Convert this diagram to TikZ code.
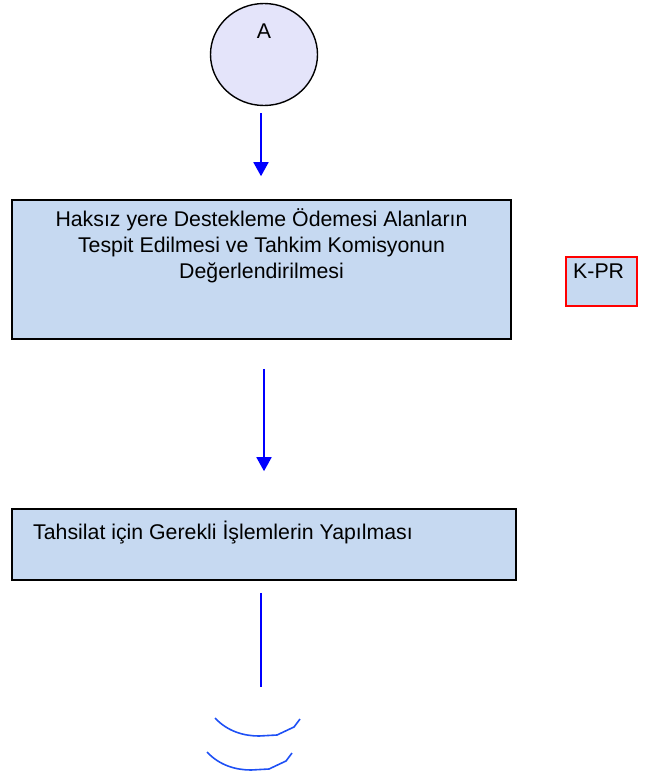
\documentclass[tikz,border=0pt]{standalone}
\usepackage{fontspec}
\setmainfont{Liberation Sans}
\usetikzlibrary{shapes.geometric,arrows.meta}
\definecolor{boxfill}{HTML}{C6D9F1}
\definecolor{circfill}{HTML}{E4E4FA}
\definecolor{arcblue}{HTML}{1E50F5}
\tikzset{
  procbox/.style={draw=black, line width=1.6pt, fill=boxfill, inner sep=0pt},
  flowarrow/.style={draw=blue, line width=1.8pt, -{Triangle[width=15pt,length=14pt]}},
  flowline/.style={draw=blue, line width=1.6pt},
  txt/.style={inner sep=0pt, font=\fontsize{21.3}{26}\selectfont},
}
\begin{document}
\begin{tikzpicture}[x=1pt,y=-1pt]
\useasboundingbox (0,0) rectangle (645,776);
% connector node A
\node[ellipse, draw=black, line width=1.4pt, fill=circfill, minimum width=107pt, minimum height=102pt, inner sep=0pt] (A) at (264,54.5) {};
\node[txt, anchor=base] (Alab) at (264,39) {A};
% box 1
\node[procbox, minimum width=499pt, minimum height=139pt] (b1) at (261.5,269.5) {};
\node[txt, anchor=base, align=center] (b1t) at (261.5,278.5) {Haksız yere Destekleme Ödemesi Alanların\\Tespit Edilmesi ve Tahkim Komisyonun\\Değerlendirilmesi};
% K-PR
\node[draw=red, line width=1.4pt, fill=boxfill, minimum width=71pt, minimum height=49pt, inner sep=0pt] (kpr) at (601.5,281.5) {};
\node[txt, anchor=base west] (kprt) at (573,278.5) {K-PR};
% box 2
\node[procbox, minimum width=504pt, minimum height=71pt] (b2) at (264,544.5) {};
\node[txt, anchor=base west] (b2t) at (33,539) {Tahsilat için Gerekli İşlemlerin Yapılması};
% arrows
\draw[flowarrow, shorten <=7pt, shorten >=23pt] ([xshift=-3pt]A.south) -- ([xshift=-3pt]A.south |- b1.north);
\draw[flowarrow, shorten <=29pt, shorten >=37pt] ([xshift=2.5pt]b1.south) -- ([xshift=2.5pt]b1.south |- b2.north);
\coordinate (lend) at (261,687);
\draw[flowline, shorten <=12pt] (lend |- b2.south) -- (lend);
% arcs
\draw[arcblue, line width=1.6pt] (215,718) .. controls (228,732) and (245,736) .. (259,736) -- (277,735) -- (294,727) -- (300,719);
\draw[arcblue, line width=1.6pt] (207,752) .. controls (220,766) and (237,770) .. (251,770) -- (269,769) -- (286,761) -- (292,753);
\end{tikzpicture}
\end{document}
